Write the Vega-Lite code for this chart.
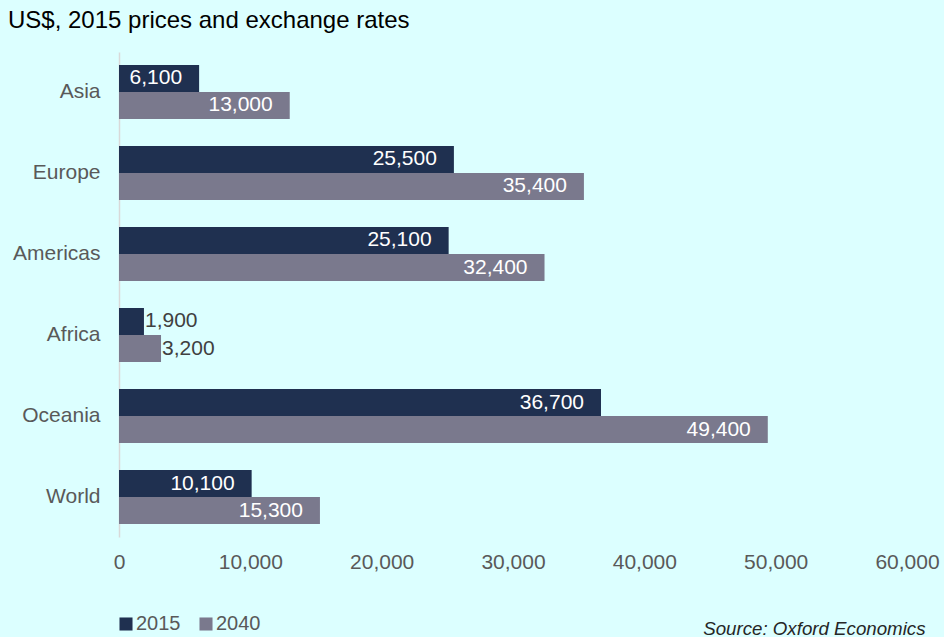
{
  "$schema": "https://vega.github.io/schema/vega-lite/v6.json",
  "width": 788,
  "height": 485,
  "autosize": "none",
  "padding": {"left": 119, "top": 52, "right": 37, "bottom": 100},
  "background": "#dcffff",
  "config": {
    "view": {"stroke": null},
    "font": "Liberation Sans"
  },
  "title": {
    "text": "US$, 2015 prices and exchange rates",
    "anchor": "start",
    "frame": "group",
    "dx": -111,
    "fontSize": 24,
    "fontWeight": "normal",
    "color": "#000000",
    "baseline": "alphabetic",
    "offset": 0
  },
  "data": {
    "values": [
      {"region": "Asia", "year": "2015", "value": 6100},
      {"region": "Asia", "year": "2040", "value": 13000},
      {"region": "Europe", "year": "2015", "value": 25500},
      {"region": "Europe", "year": "2040", "value": 35400},
      {"region": "Americas", "year": "2015", "value": 25100},
      {"region": "Americas", "year": "2040", "value": 32400},
      {"region": "Africa", "year": "2015", "value": 1900},
      {"region": "Africa", "year": "2040", "value": 3200},
      {"region": "Oceania", "year": "2015", "value": 36700},
      {"region": "Oceania", "year": "2040", "value": 49400},
      {"region": "World", "year": "2015", "value": 10100},
      {"region": "World", "year": "2040", "value": 15300}
    ]
  },
  "encoding": {
    "y": {
      "field": "region",
      "type": "nominal",
      "sort": null,
      "scale": {"paddingInner": 0.333, "paddingOuter": 0.16},
      "axis": {
        "title": null,
        "ticks": false,
        "domainColor": "#d9d9d9",
        "domainWidth": 1.5,
        "labelFontSize": 21,
        "labelColor": "#595959",
        "labelPadding": 19
      }
    },
    "yOffset": {
      "field": "year",
      "type": "nominal",
      "scale": {"paddingInner": 0, "paddingOuter": 0}
    },
    "x": {
      "field": "value",
      "type": "quantitative",
      "scale": {"domain": [0, 60000], "nice": false},
      "axis": {
        "values": [0, 10000, 20000, 30000, 40000, 50000, 60000],
        "format": ",.0f",
        "grid": false,
        "domain": false,
        "ticks": false,
        "labelFontSize": 21,
        "labelColor": "#595959",
        "labelPadding": 14,
        "labelFlush": false,
        "title": "Source: Oxford Economics",
        "titleFontSize": 18.7,
        "titleFontStyle": "italic",
        "titleFontWeight": "normal",
        "titleColor": "#262626",
        "titleAnchor": "end",
        "titleAlign": "right",
        "titleBaseline": "alphabetic",
        "titleX": 806,
        "titleY": 97
      }
    }
  },
  "layer": [
    {
      "mark": {"type": "bar"},
      "encoding": {
        "color": {
          "field": "year",
          "type": "nominal",
          "scale": {"domain": ["2015", "2040"], "range": ["#1f3050", "#7a798d"]},
          "legend": {
            "title": null,
            "orient": "none",
            "legendX": -3,
            "legendY": 562,
            "direction": "horizontal",
            "symbolType": "square",
            "symbolSize": 170,
            "symbolStrokeWidth": 0,
            "labelFontSize": 20,
            "labelColor": "#595959",
            "labelOffset": 0,
            "columnPadding": 15
          }
        }
      }
    },
    {
      "transform": [{"filter": "datum.value >= 5000"}],
      "mark": {"type": "text", "align": "right", "baseline": "middle", "dx": -17, "fontSize": 21, "color": "#ffffff"},
      "encoding": {
        "text": {"field": "value", "type": "quantitative", "format": ",.0f"}
      }
    },
    {
      "transform": [{"filter": "datum.value < 5000"}],
      "mark": {"type": "text", "align": "left", "baseline": "middle", "dx": 1, "fontSize": 21, "color": "#404040"},
      "encoding": {
        "text": {"field": "value", "type": "quantitative", "format": ",.0f"}
      }
    }
  ]
}
